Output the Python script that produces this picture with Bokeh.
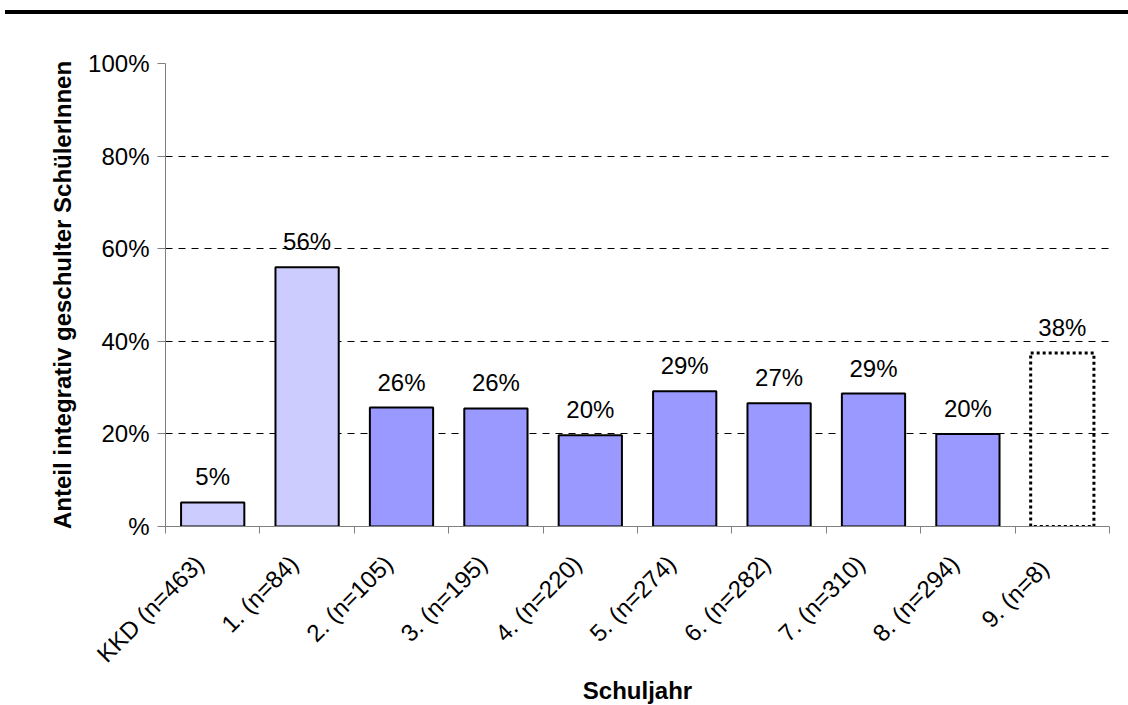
import math
from bokeh.plotting import figure
from bokeh.models import ColumnDataSource, FixedTicker, Div, LabelSet
from bokeh.core.properties import value
from bokeh.layouts import column
from bokeh.embed import file_html
from bokeh.resources import INLINE

categories = ["KKD (n=463)", "1. (n=84)", "2. (n=105)", "3. (n=195)", "4. (n=220)",
              "5. (n=274)", "6. (n=282)", "7. (n=310)", "8. (n=294)", "9.  (n=8)"]
values = [5.2, 56.0, 25.7, 25.5, 19.7, 29.2, 26.6, 28.7, 20.0, 37.5]
value_labels = ["5%", "56%", "26%", "26%", "20%", "29%", "27%", "29%", "20%", "38%"]
y_ticks = [0, 20, 40, 60, 80, 100]
y_tick_labels = ["%", "20%", "40%", "60%", "80%", "100%"]

FONT = "Liberation Sans"
LIGHT = "#CCCCFF"
MID = "#9999FF"

xs = list(range(len(categories)))
fills = [LIGHT, LIGHT] + [MID] * 7 + [None]

src_solid = ColumnDataSource(dict(x=xs[:9], top=values[:9], fill=fills[:9]))
src_dash = ColumnDataSource(dict(x=xs[9:], top=values[9:]))
src_lab = ColumnDataSource(dict(x=xs, top=values, lab=value_labels))

p = figure(frame_width=944, frame_height=463,
           x_range=(-0.5, len(categories) - 0.5), y_range=(0, 100),
           output_backend="svg", toolbar_location=None,
           min_border_left=165, min_border_top=49, min_border_right=19, min_border_bottom=175)
p.outline_line_color = None
p.background_fill_color = "white"

p.vbar(x="x", top="top", width=0.67, bottom=0, source=src_solid,
       fill_color="fill", line_color="black", line_width=2)
p.vbar(x="x", top="top", width=0.67, bottom=0, source=src_dash,
       fill_color=None, line_color="black", line_width=3, line_dash="3 3")

labels = LabelSet(x="x", y="top", text="lab", source=src_lab, text_align="center",
                  text_baseline="alphabetic", y_offset=17, text_font=value(FONT),
                  text_font_size="24px", text_color="black")
p.add_layout(labels)

# grid
p.xgrid.visible = False
p.ygrid.ticker = FixedTicker(ticks=[20, 40, 60, 80, 100])
p.ygrid.grid_line_color = "black"
p.ygrid.grid_line_dash = "7 6"
p.ygrid.grid_line_width = 1

# x axis: labels slightly left of bar centres (as in the reference), ticks at category borders
label_pos = [i - 0.14 for i in xs]
xa = p.xaxis[0]
xa.ticker = FixedTicker(ticks=label_pos, minor_ticks=[i - 0.5 for i in range(len(categories) + 1)])
xa.major_label_overrides = {pos: c for pos, c in zip(label_pos, categories)}
xa.major_label_orientation = math.pi / 4
xa.major_tick_line_color = None
xa.minor_tick_in = 0
xa.minor_tick_out = 7
xa.minor_tick_line_color = "#808080"
xa.axis_line_color = "#808080"
xa.major_label_text_font = FONT
xa.major_label_text_font_size = "24px"
xa.major_label_text_color = "black"
xa.major_label_standoff = 26
xa.axis_label = "Schuljahr"
xa.axis_label_text_font = FONT
xa.axis_label_text_font_style = "bold"
xa.axis_label_text_font_size = "24px"
xa.axis_label_text_color = "black"
xa.axis_label_standoff = -3

# y axis
ya = p.yaxis[0]
ya.ticker = FixedTicker(ticks=y_ticks)
ya.major_label_overrides = {t: l for t, l in zip(y_ticks, y_tick_labels)}
ya.major_tick_in = 0
ya.major_tick_out = 8
ya.major_tick_line_color = "#808080"
ya.axis_line_color = "#808080"
ya.minor_tick_line_color = None
ya.major_label_text_font = FONT
ya.major_label_text_font_size = "24px"
ya.major_label_text_color = "black"
ya.major_label_standoff = 8
ya.axis_label = "Anteil integrativ geschulter SchülerInnen"
ya.axis_label_text_font = FONT
ya.axis_label_text_font_style = "bold"
ya.axis_label_text_font_size = "24px"
ya.axis_label_text_color = "black"
ya.axis_label_standoff = 9

top_line = Div(text="", width=1123, height=4, margin=(10, 0, 0, 5),
               styles={"background-color": "black"})

layout = column(top_line, p, spacing=0)

open("out.html", "w").write(file_html(layout, INLINE))
